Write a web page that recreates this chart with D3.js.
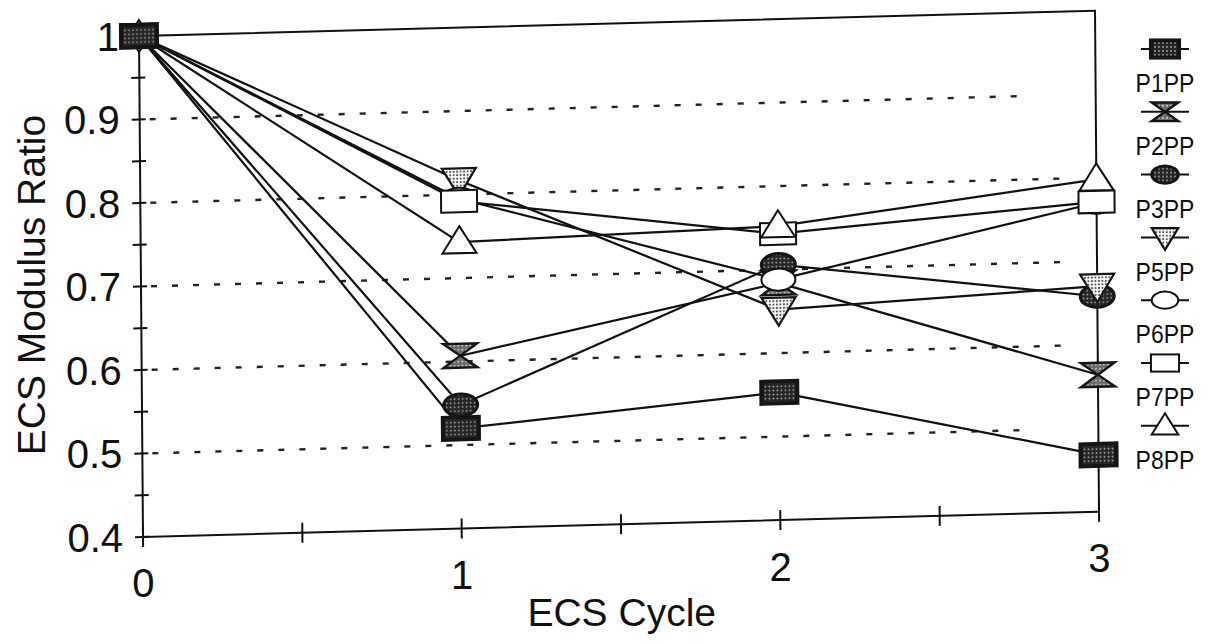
<!DOCTYPE html>
<html>
<head>
<meta charset="utf-8">
<script src="https://cdn.jsdelivr.net/npm/d3@7"></script>
<style>
  body { margin: 0; background: #fff; }
  svg { display: block; }
  text { font-family: "Liberation Sans", Arial, Helvetica, sans-serif; fill: #111; }
</style>
</head>
<body>
<svg id="chart" width="1225" height="644"></svg>
<script>
// ECS modulus ratio per specimen over the ECS cycles
const cycles = [0, 1, 2, 3];
const seriesNames = ["P1PP", "P2PP", "P3PP", "P5PP", "P6PP", "P7PP", "P8PP"];
const p1pp = [1, 0.52, 0.553, 0.468];
const p2pp = [1, 0.607, 0.684, 0.564];
const p3pp = [1, 0.548, 0.706, 0.658];
const p5pp = [1, 0.817, 0.652, 0.670];
const p6pp = [1, 0.795, 0.688, 0.770];
const p7pp = [1, 0.792, 0.743, 0.771];
const p8pp = [1, 0.743, 0.752, 0.798];
const yTickValues = [0.4, 0.5, 0.6, 0.7, 0.8, 0.9, 1];
const yTickLabels = ["0.4", "0.5", "0.6", "0.7", "0.8", "0.9", "1"];
const xTickLabels = ["0", "1", "2", "3"];
const gridValues = [0.5, 0.6, 0.7, 0.8, 0.9];
const gridEnds = [2.78, 2.92, 2.92, 2.92, 2.78];
const markerShapes = ["rectDark", "hourglass", "ellipseDark", "triDown", "ellipseOpen", "rectOpen", "triUp"];

const seriesValues = [p1pp, p2pp, p3pp, p5pp, p6pp, p7pp, p8pp];
const series = seriesNames.map((name, i) => ({
  name, shape: markerShapes[i], index: i,
  points: cycles.map((c, j) => ({ c, v: seriesValues[i][j] }))
}));

const svg = d3.select("#chart");

// plot frame (the printed figure sits slightly askew on the page)
const W = 956, H = 501;
const skew = { a: 1, b: -0.0265, c: 0.008, d: 1, e: 139, f: 36 };
const proj = (u, v) => [skew.a * u + skew.c * v + skew.e, skew.b * u + skew.d * v + skew.f];

const x = d3.scaleLinear().domain([0, 3]).range([0, W]);
const y = d3.scaleLinear().domain([0.4, 1]).range([H, 0]);

// fill patterns
const defs = svg.append("defs");
function dotPattern(id, bg, dot, r, size) {
  const p = defs.append("pattern").attr("id", id)
    .attr("width", size).attr("height", size).attr("patternUnits", "userSpaceOnUse");
  p.append("rect").attr("width", size).attr("height", size).attr("fill", bg);
  p.append("circle").attr("cx", size / 2).attr("cy", size / 2).attr("r", r).attr("fill", dot);
}
dotPattern("dotsDark", "#262626", "#a8a8a8", 0.9, 4);
dotPattern("dotsMid", "#6a6a6a", "#e0e0e0", 0.9, 4);
dotPattern("dotsLight", "#ffffff", "#555555", 1.1, 3.5);

const g = svg.append("g")
  .attr("transform", `matrix(${skew.a},${skew.b},${skew.c},${skew.d},${skew.e},${skew.f})`);

// dashed gridlines
g.selectAll("line.grid").data(gridValues).join("line")
  .attr("class", "grid")
  .attr("x1", 10).attr("x2", (d, i) => x(gridEnds[i]))
  .attr("y1", d => y(d)).attr("y2", d => y(d))
  .attr("stroke", "#222").attr("stroke-width", 2.4)
  .attr("stroke-dasharray", "6,15");

// frame: axes plus top and right borders
g.append("rect").attr("x", 0).attr("y", 0).attr("width", W).attr("height", H)
  .attr("fill", "none").attr("stroke", "#111").attr("stroke-width", 2);

// y ticks every 0.05
const yMinor = d3.range(0.4, 1.0001, 0.05);
g.selectAll("line.yt").data(yMinor).join("line")
  .attr("class", "yt")
  .attr("x1", -8).attr("x2", 6)
  .attr("y1", d => y(d)).attr("y2", d => y(d))
  .attr("stroke", "#111").attr("stroke-width", 2);

// x ticks every half cycle
const xMinor = d3.range(0, 3.0001, 0.5);
g.selectAll("line.xt").data(xMinor).join("line")
  .attr("class", "xt")
  .attr("x1", d => x(d)).attr("x2", d => x(d))
  .attr("y1", H - 10).attr("y2", H + 10)
  .attr("stroke", "#111").attr("stroke-width", 2);

// series lines
const line = d3.line().x(d => x(d.c)).y(d => y(d.v));
g.selectAll("path.series").data(series).join("path")
  .attr("class", "series")
  .attr("d", d => line(d.points))
  .attr("fill", "none").attr("stroke", "#111").attr("stroke-width", 2.2);

// marker shapes
function drawMarker(sel, shape, s) {
  const w = 36 * s, h = 22 * s;
  if (shape === "rectDark") {
    sel.append("rect").attr("x", -w / 2).attr("y", -h / 2).attr("width", w).attr("height", h)
      .attr("fill", "url(#dotsDark)").attr("stroke", "#151515").attr("stroke-width", 4);
  } else if (shape === "rectOpen") {
    sel.append("rect").attr("x", -w / 2).attr("y", -h / 2).attr("width", w).attr("height", h)
      .attr("fill", "#fff").attr("stroke", "#111").attr("stroke-width", 2);
  } else if (shape === "hourglass") {
    const hw = 17 * s, hh = 12 * s;
    sel.append("path").attr("d", `M${-hw},${-hh}H${hw}L${-hw},${hh}H${hw}Z`)
      .attr("fill", "url(#dotsMid)").attr("stroke", "#151515").attr("stroke-width", 2.4)
      .attr("stroke-linejoin", "miter");
  } else if (shape === "ellipseDark") {
    sel.append("ellipse").attr("rx", 17 * s).attr("ry", 11 * s)
      .attr("fill", "url(#dotsDark)").attr("stroke", "#151515").attr("stroke-width", 3);
  } else if (shape === "ellipseOpen") {
    sel.append("ellipse").attr("rx", 17 * s).attr("ry", 11 * s)
      .attr("fill", "#fff").attr("stroke", "#111").attr("stroke-width", 2);
  } else if (shape === "triDown") {
    const hw = 17 * s;
    sel.append("path").attr("d", `M${-hw},${-12 * s}H${hw}L0,${16 * s}Z`)
      .attr("fill", "url(#dotsLight)").attr("stroke", "#151515").attr("stroke-width", 2.2);
  } else if (shape === "triUp") {
    const hw = 17 * s;
    sel.append("path").attr("d", `M0,${-16 * s}L${hw},${11 * s}H${-hw}Z`)
      .attr("fill", "#fff").attr("stroke", "#111").attr("stroke-width", 2);
  }
}

// markers: later series on top, except at the shared start point where P1PP sits on top
const markerData = [];
series.forEach(s => s.points.forEach((p, j) => {
  markerData.push({ shape: s.shape, c: p.c, v: p.v, order: j === 0 ? 100 - s.index : s.index + j * 10 });
}));
markerData.sort((a, b) => a.order - b.order);
g.selectAll("g.marker").data(markerData).join("g")
  .attr("class", "marker")
  .attr("transform", d => `translate(${x(d.c)},${y(d.v)})`)
  .each(function (d) { drawMarker(d3.select(this), d.shape, 1); });

// tick labels, kept upright
svg.selectAll("text.ylab").data(yTickValues).join("text")
  .attr("class", "ylab")
  .attr("x", d => proj(-20, y(d))[0])
  .attr("y", d => proj(-20, y(d))[1])
  .attr("dy", "0.36em")
  .attr("text-anchor", "end")
  .attr("font-size", 40)
  .text((d, i) => yTickLabels[i]);

svg.selectAll("text.xlab").data(cycles).join("text")
  .attr("class", "xlab")
  .attr("x", d => proj(x(d), H + 46)[0])
  .attr("y", d => proj(x(d), H + 46)[1])
  .attr("dy", "0.36em")
  .attr("text-anchor", "middle")
  .attr("font-size", 40)
  .text((d, i) => xTickLabels[i]);

// axis titles
const xt = proj(W / 2, H + 88);
svg.append("text").attr("x", xt[0]).attr("y", xt[1]).attr("dy", "0.36em")
  .attr("text-anchor", "middle").attr("font-size", 39).text("ECS Cycle");

svg.append("text").attr("transform", "translate(31,285) rotate(-90)")
  .attr("dy", "0.36em").attr("text-anchor", "middle").attr("font-size", 39)
  .text("ECS Modulus Ratio");

// legend: symbol above each name
const legend = svg.append("g").attr("class", "legend");
const rowStep = 62.8, firstLabelY = 83;
const rows = legend.selectAll("g.row").data(series).join("g")
  .attr("class", "row")
  .attr("transform", (d, i) => `translate(1165,${firstLabelY + i * rowStep})`);
rows.append("line").attr("x1", -24).attr("x2", 24).attr("y1", -34).attr("y2", -34)
  .attr("stroke", "#111").attr("stroke-width", 2);
rows.append("g").attr("transform", "translate(0,-34)")
  .each(function (d) { drawMarker(d3.select(this), d.shape, 0.78); });
rows.append("text").attr("dy", "0.36em").attr("text-anchor", "middle")
  .attr("font-size", 23).attr("transform", "scale(1,1.12)")
  .text(d => d.name);
</script>
</body>
</html>
